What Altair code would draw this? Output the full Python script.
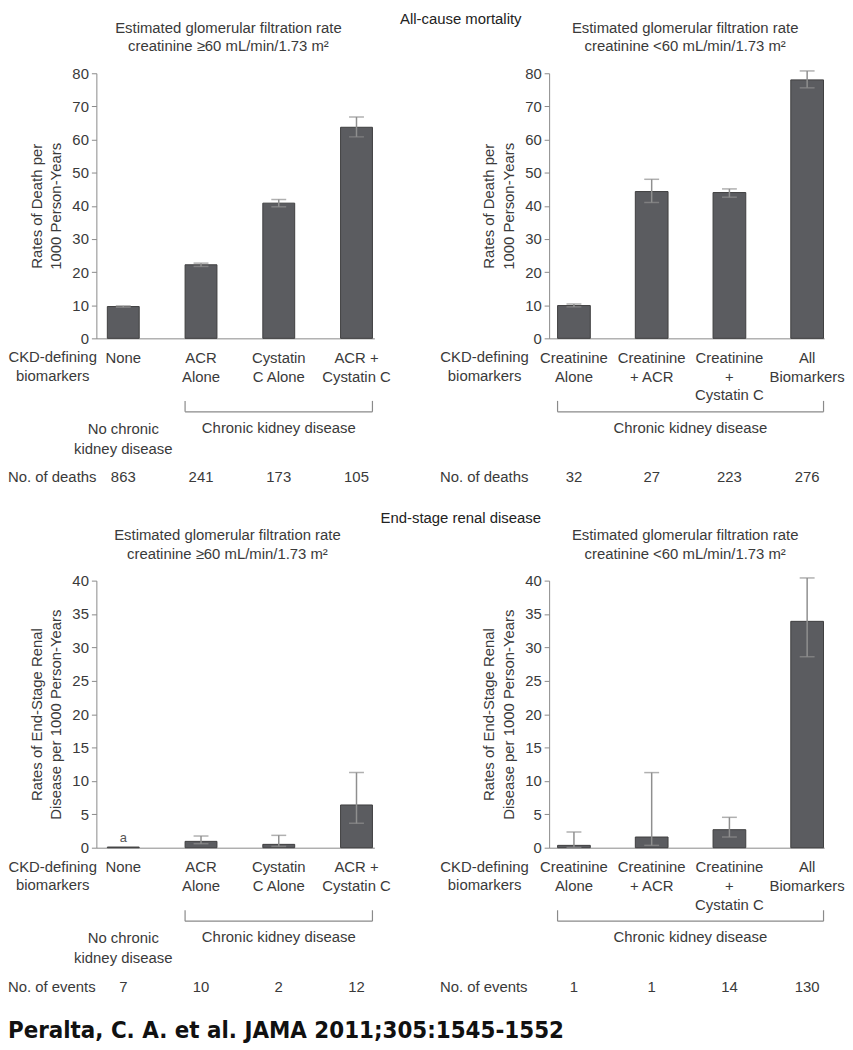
import altair as alt
import pandas as pd

FONT = "Liberation Sans"
TXT = "#3a3a3a"
AXC = "#8a8a8a"
BARC = "#5b5c60"
BARS = "#3e3e40"
ERRC = "#8f8f8f"

# ---------------- data ----------------
tl_cats = ["None", "ACR\nAlone", "Cystatin\nC Alone", "ACR +\nCystatin C"]
tl_rate = [9.6, 22.2, 40.8, 63.7]
tl_lo = [9.4, 21.7, 39.7, 60.8]
tl_hi = [9.8, 22.7, 41.9, 66.8]
tl_n = [863, 241, 173, 105]

tr_cats = ["Creatinine\nAlone", "Creatinine\n+ ACR", "Creatinine\n+\nCystatin C", "All\nBiomarkers"]
tr_rate = [9.9, 44.3, 44.0, 78.0]
tr_lo = [9.5, 41.0, 42.6, 75.6]
tr_hi = [10.4, 48.0, 45.1, 80.7]
tr_n = [32, 27, 223, 276]

bl_rate = [0.1, 0.95, 0.5, 6.4]
bl_lo = [None, 0.6, 0.2, 3.65]
bl_hi = [None, 1.75, 1.85, 11.25]
bl_n = [7, 10, 2, 12]
bl_note = ["a", "", "", ""]

br_rate = [0.35, 1.6, 2.7, 33.9]
br_lo = [0.05, 0.35, 1.6, 28.6]
br_hi = [2.35, 11.25, 4.55, 40.4]
br_n = [1, 1, 14, 130]

sub_ge = "Estimated glomerular filtration rate\ncreatinine \u226560 mL/min/1.73 m\u00b2"
sub_lt = "Estimated glomerular filtration rate\ncreatinine <60 mL/min/1.73 m\u00b2"
ytitle_top = ["Rates of Death per", "1000 Person-Years"]
ytitle_bot = ["Rates of End-Stage Renal", "Disease per 1000 Person-Years"]


def tdf(**cols):
    return pd.DataFrame({k: [v] for k, v in cols.items()})


def panel(cats, rate, lo, hi, counts, notes, ymax, ystep, ytitle, subtitle, sub_x,
          w, h, pi, po, align, half, row_label, row_x, ckd_x, ckd_anchor, ckd_dx,
          bracket, show_no_ckd, section=None, section_x=0, section_y=0, citation=None):
    df = pd.DataFrame({"cat": cats, "rate": rate, "lo": lo, "hi": hi,
                       "n": [str(c) for c in counts], "note": notes})
    xsc = alt.Scale(domain=cats, paddingInner=pi, paddingOuter=po, align=align)
    xax = alt.Axis(title=None, ticks=False, labelAngle=0,
                   labelExpr="split(datum.label, '\\n')", labelFont=FONT,
                   labelFontSize=15, labelColor=TXT, labelLineHeight=19,
                   labelPadding=12, domainColor=AXC, domainWidth=1, labelLimit=0)
    ysc = alt.Scale(domain=[0, ymax], nice=False, zero=True)
    yax = alt.Axis(values=list(range(0, ymax + 1, ystep)), title=ytitle, grid=False,
                   titleFont=FONT, titleFontSize=15, titleFontWeight="normal",
                   titleColor=TXT, titleLineHeight=20, titlePadding=8,
                   labelFont=FONT, labelFontSize=15, labelColor=TXT, labelPadding=3,
                   labelOverlap=False, tickSize=5, tickColor=AXC, domainColor=AXC,
                   domainWidth=1)
    X = lambda f="cat": alt.X(f"{f}:N", scale=xsc, axis=xax)
    Y = lambda f: alt.Y(f"{f}:Q", scale=ysc, axis=yax)
    txt = dict(font=FONT, fontSize=15, color=TXT)
    base = alt.Chart(df)
    layers = [
        base.mark_bar(fill=BARC, stroke=BARS, strokeWidth=1).encode(x=X(), y=Y("rate")),
        base.mark_rule(color=ERRC, strokeWidth=1.5).encode(x=X(), y=Y("lo"), y2="hi:Q"),
        base.mark_tick(color=ERRC, thickness=1.5, size=15).encode(x=X(), y=Y("lo")),
        base.mark_tick(color=ERRC, thickness=1.5, size=15).encode(x=X(), y=Y("hi")),
        base.mark_text(font=FONT, fontSize=13, color="#555555", baseline="alphabetic", dy=-5).encode(
            x=X(), y=Y("rate"), text="note:N"),
        base.mark_text(baseline="middle", **txt).encode(
            x=X(), y=alt.value(h + 140), text="n:N"),
        alt.Chart(tdf(t=row_label)).mark_text(align="left", baseline="middle", **txt).encode(
            x=alt.value(row_x), y=alt.value(h + 140), text="t:N"),
        alt.Chart(tdf(t="CKD-defining\nbiomarkers")).mark_text(
            align="center", baseline="top", lineBreak="\n", lineHeight=19, **txt).encode(
            x=alt.value(ckd_x), y=alt.value(h + 12), text="t:N"),
        alt.Chart(tdf(cat=ckd_anchor, t="Chronic kidney disease")).mark_text(
            baseline="middle", dx=ckd_dx, **txt).encode(
            x=X(), y=alt.value(h + 90), text="t:N"),
        alt.Chart(tdf(t=subtitle)).mark_text(
            align="center", baseline="middle", lineBreak="\n", lineHeight=19, **txt).encode(
            x=alt.value(sub_x), y=alt.value(-46), text="t:N"),
    ]
    bdf = tdf(s=bracket[0], e=bracket[1])
    layers += [
        alt.Chart(bdf).mark_rule(color=AXC, strokeWidth=1.2, xOffset=-half, x2Offset=half).encode(
            x=X("s"), x2="e", y=alt.value(h + 74)),
        alt.Chart(bdf).mark_rule(color=AXC, strokeWidth=1.2, xOffset=-half).encode(
            x=X("s"), y=alt.value(h + 63), y2=alt.value(h + 74)),
        alt.Chart(bdf).mark_rule(color=AXC, strokeWidth=1.2, xOffset=half).encode(
            x=X("e"), y=alt.value(h + 63), y2=alt.value(h + 74)),
    ]
    if show_no_ckd:
        layers.append(alt.Chart(tdf(cat=cats[0], t="No chronic\nkidney disease")).mark_text(
            baseline="top", lineBreak="\n", lineHeight=20, **txt).encode(
            x=X(), y=alt.value(h + 84), text="t:N"))
    if section:
        layers.append(alt.Chart(tdf(t=section)).mark_text(
            font=FONT, fontSize=15, color="#222222", baseline="middle").encode(
            x=alt.value(section_x), y=alt.value(section_y), text="t:N"))
    if citation:
        layers.append(alt.Chart(tdf(t=citation)).mark_text(
            font="Liberation Sans Narrow, Arial Narrow, DejaVu Sans Condensed, sans-serif",
            fontWeight="bold", fontSize=24, color="#111111", align="left", baseline="middle").encode(
            x=alt.value(-89), y=alt.value(h + 185), text="t:N"))
    return alt.layer(*layers).properties(width=w, height=h)


tl = panel(tl_cats, tl_rate, tl_lo, tl_hi, tl_n, ["", "", "", ""], 80, 10, ytitle_top, sub_ge, 133,
           280, 267, 0.59, 0.083, 0.85, 16.05, "No. of deaths", -89, -44,
           tl_cats[2], 0, (tl_cats[1], tl_cats[3]), True,
           section="All-cause mortality", section_x=367, section_y=-55)
tr = panel(tr_cats, tr_rate, tr_lo, tr_hi, tr_n, ["", "", "", ""], 80, 10, ytitle_top, sub_lt, 137,
           277, 267, 0.579, 0.0585, 0.93, 16.5, "No. of deaths", -110, -65,
           tr_cats[1], 39, (tr_cats[0], tr_cats[3]), False)
bl = panel(tl_cats, bl_rate, bl_lo, bl_hi, bl_n, bl_note, 40, 5, ytitle_bot, sub_ge, 132,
           280, 269, 0.59, 0.083, 0.85, 16.05, "No. of events", -89, -44,
           tl_cats[2], 0, (tl_cats[1], tl_cats[3]), True,
           section="End-stage renal disease", section_x=367, section_y=-63,
           citation="Peralta, C. A. et al. JAMA 2011;305:1545-1552")
br = panel(tr_cats, br_rate, br_lo, br_hi, br_n, ["", "", "", ""], 40, 5, ytitle_bot, sub_lt, 137,
           277, 269, 0.579, 0.0585, 0.93, 16.5, "No. of events", -110, -65,
           tr_cats[1], 39, (tr_cats[0], tr_cats[3]), False)

chart = alt.concat(tl, tr, bl, br, columns=2, spacing={"row": 244, "column": 176}).properties(
    bounds="flush", padding=0).configure_view(stroke=None)

chart.save("out.html", embed_options={"renderer": "svg", "actions": False})
